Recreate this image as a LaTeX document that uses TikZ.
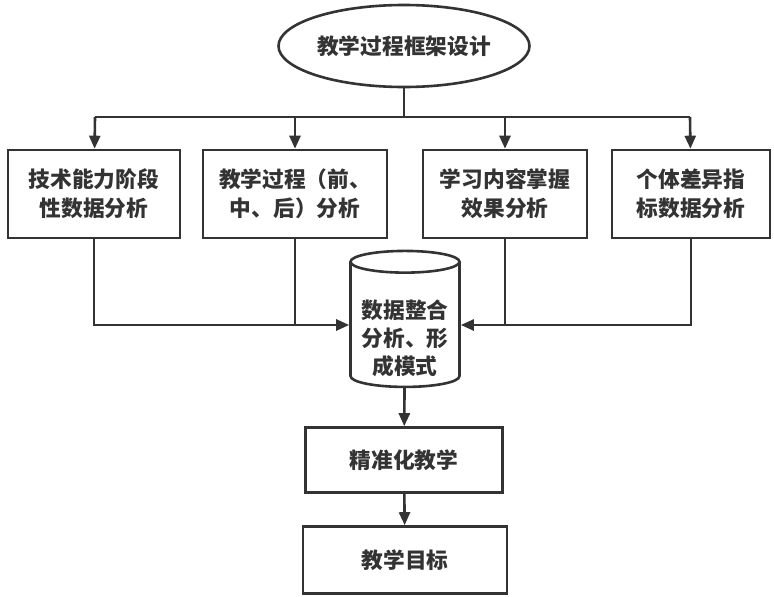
\documentclass[tikz,border=0pt]{standalone}
\usepackage{fontspec}
\newfontfamily\cjk{Noto Sans CJK SC}
\usetikzlibrary{arrows.meta,shapes.geometric}
\definecolor{ink}{HTML}{333333}
\tikzset{
  box/.style={draw=ink,line width=2.6pt,align=center,inner sep=0pt},
  arr/.style={-{Triangle[length=13pt,width=11pt]}}
}

\begin{document}
\begin{tikzpicture}[x=1pt,y=-1pt,line width=2.6pt,draw=ink,text=ink,
  font=\cjk\bfseries\fontsize{21.7}{29}\selectfont]
\useasboundingbox (0,0) rectangle (774,597);

\node[box,ellipse,minimum width=251pt,minimum height=82pt] (top) at (404,46) {教学过程框架设计};

\node[box,minimum width=172pt,minimum height=88pt] (tech) at (94,194) {技术能力阶段\\性数据分析};
\node[box,minimum width=184pt,minimum height=88pt] (proc) at (295,194) {教学过程（前、\\中、后）分析};
\node[box,minimum width=164pt,minimum height=88pt] (learn) at (505,194) {学习内容掌握\\效果分析};
\node[box,minimum width=158pt,minimum height=88pt] (indiv) at (691,194) {个体差异指\\标数据分析};

\node[box,cylinder,shape border rotate=90,aspect=0.25,minimum width=109pt,minimum height=136pt,
  font=\cjk\bfseries\fontsize{21.7}{28}\selectfont] (data) at (405,325)
  {\raisebox{-21pt}[0pt][0pt]{\begin{tabular}{@{}c@{}}数据整合\\分析、形\\成模式\end{tabular}}};

\node[box,minimum width=197pt,minimum height=65pt] (prec) at (404,460) {精准化教学};
\node[box,minimum width=204pt,minimum height=67pt] (goal) at (405,560) {教学目标};

% bus from the top
\coordinate (busL) at (95,117);
\coordinate (busR) at (690,117);
\draw (top) -- (top |- busL);
\draw (busL) -- (busR);
\draw[arr] (busL) -- (tech);
\draw[arr] (proc |- busL) -- (proc);
\draw[arr] (learn |- busL) -- (learn);
\draw[arr] (busR) -- (indiv);

% into the data store
\draw[arr] (tech.south) |- (data);
\draw (proc.south) -- (proc |- data);
\draw[arr] (indiv.south) |- (data);
\draw (learn.south) -- (learn |- data);

\draw[arr] (data) -- (prec);
\draw[arr] (prec) -- (goal);
\end{tikzpicture}
\end{document}
